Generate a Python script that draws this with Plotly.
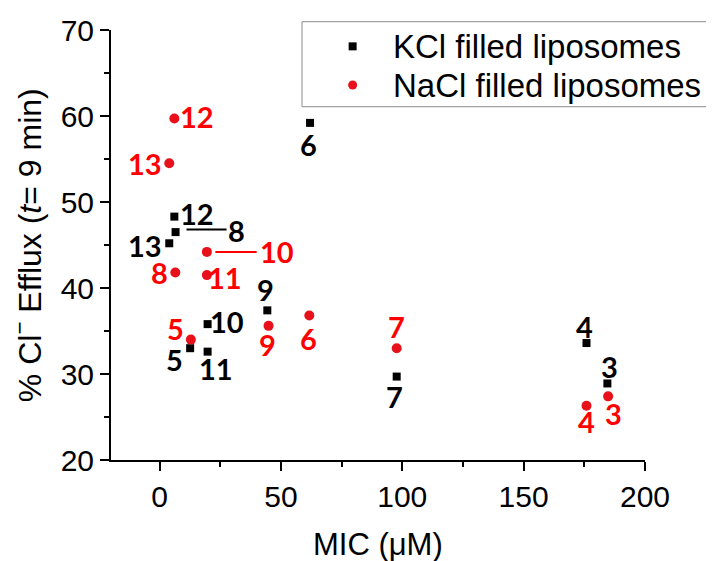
import plotly.graph_objects as go

# ---- data ----
kcl_ids = ["3", "4", "5", "6", "7", "8", "9", "10", "11", "12", "13"]
kcl_mic = [184.5, 175.9, 12.6, 62.0, 97.7, 6.6, 44.4, 19.8, 19.8, 6.1, 4.0]
kcl_efflux = [28.9, 33.6, 33.0, 59.2, 29.7, 46.5, 37.4, 35.8, 32.6, 48.3, 45.2]

nacl_ids = ["3", "4", "5", "6", "7", "8", "9", "10", "11", "12", "13"]
nacl_mic = [184.8, 175.9, 12.9, 61.7, 97.7, 6.5, 44.9, 19.5, 19.5, 6.1, 4.0]
nacl_efflux = [27.4, 26.3, 34.0, 36.8, 33.0, 41.8, 35.6, 44.2, 41.5, 59.7, 54.5]

x_ticks = [0, 50, 100, 150, 200]
y_ticks = [20, 30, 40, 50, 60, 70]
series_names = ["KCl filled liposomes", "NaCl filled liposomes"]
x_title = "MIC (μM)"
y_title = "% Cl<sup>−</sup> Efflux (<i>t</i>= 9 min)"

# ---- label placement (pixel offsets: dx right, dy up) ----
kcl_label_off = {
    "3": (2, 17), "4": (-2, 17), "5": (-16, -11), "6": (-2, -22), "7": (-2, -20),
    "8": (61, 2), "9": (-2, 21), "10": (19, 3), "11": (8, -17), "12": (23, 3), "13": (-24, -2),
}
nacl_label_off = {
    "3": (5, -17), "4": (0, -16), "5": (-15, 11), "6": (-1, -23), "7": (0, 22),
    "8": (-16, 0), "9": (-1, -19), "10": (70, 0), "11": (18, -2), "12": (23, 2), "13": (-24, 0),
}

BLACK = "#000000"
RED_MARK = "#e8101a"
RED_TEXT = "#ff0000"
SANS = "Liberation Sans, Arial"

fig = go.Figure()
fig.add_trace(go.Scatter(
    x=kcl_mic, y=kcl_efflux, mode="markers", name=series_names[0],
    marker=dict(symbol="square", size=8, color=BLACK), showlegend=False,
))
fig.add_trace(go.Scatter(
    x=nacl_mic, y=nacl_efflux, mode="markers", name=series_names[1],
    marker=dict(symbol="circle", size=10, color=RED_MARK), showlegend=False,
))

label_font = dict(family="Lato", size=29, weight="bold")
for ids, xs, ys, offs, col in [
    (kcl_ids, kcl_mic, kcl_efflux, kcl_label_off, BLACK),
    (nacl_ids, nacl_mic, nacl_efflux, nacl_label_off, RED_TEXT),
]:
    for i, xv, yv in zip(ids, xs, ys):
        dx, dy = offs[i]
        fig.add_annotation(x=xv, y=yv, text=i, showarrow=False,
                           xshift=dx, yshift=dy,
                           font=dict(color=col, **label_font))

# leader lines for label 8 (KCl) and label 10 (NaCl)
kx, ky = kcl_mic[kcl_ids.index("8")], kcl_efflux[kcl_ids.index("8")]
nx, ny = nacl_mic[nacl_ids.index("10")], nacl_efflux[nacl_ids.index("10")]
fig.add_shape(type="line", xref="x", yref="y",
              x0=kx + 4.5, x1=kx + 21, y0=ky + 0.3, y1=ky + 0.3,
              line=dict(color=BLACK, width=2))
fig.add_shape(type="line", xref="x", yref="y",
              x0=nx + 3.5, x1=nx + 20.5, y0=ny, y1=ny,
              line=dict(color=RED_TEXT, width=2))

# ---- legend box (drawn to match the original's tight layout) ----
fig.add_shape(type="rect", xref="paper", yref="paper",
              x0=0.3577, x1=1.14, y0=0.8216, y1=1.0193,
              line=dict(color="#8c8c8c", width=1), fillcolor="white", layer="below")
leg_rows = [(1.0193 - 0.8216) * f for f in (0.71, 0.255)]
for k, (name, sym, col, size) in enumerate([
    (series_names[0], "rect", BLACK, 4),
    (series_names[1], "circle", RED_MARK, 4.5),
]):
    yc = 0.8216 + leg_rows[k]
    fig.add_shape(type=sym, xref="paper", yref="paper",
                  xsizemode="pixel", ysizemode="pixel",
                  xanchor=0.4525, yanchor=yc,
                  x0=-size, x1=size, y0=-size, y1=size,
                  line=dict(width=0), fillcolor=col)
    fig.add_annotation(xref="paper", yref="paper", x=0.5235, y=yc,
                       xanchor="left", yanchor="middle", showarrow=False,
                       text=name, font=dict(family=SANS, size=33, color=BLACK))

# ---- axis titles ----
fig.add_annotation(xref="paper", yref="paper", x=0.5, y=-0.197,
                   xanchor="center", yanchor="middle", showarrow=False,
                   text=x_title, font=dict(family=SANS, size=31, color=BLACK))
fig.add_annotation(xref="paper", yref="paper", x=-0.157, y=0.5,
                   xanchor="center", yanchor="middle", showarrow=False,
                   textangle=-90, text=y_title,
                   font=dict(family=SANS, size=32, color=BLACK))

axis_font = dict(family=SANS, size=30, color=BLACK)
fig.update_layout(
    width=714, height=561,
    margin=dict(l=103, r=77, t=22, b=109, autoexpand=False),
    paper_bgcolor="white", plot_bgcolor="white",
    font=axis_font,
    showlegend=False,
    xaxis=dict(
        range=[-20, 200], tickvals=x_ticks, ticks="outside", ticklen=9,
        tickwidth=2, tickcolor="black", showline=True, linewidth=2,
        linecolor="black", showgrid=False, zeroline=False, automargin=False,
        minor=dict(tickvals=[25, 75, 125, 175], ticks="outside", ticklen=5,
                   tickwidth=2, tickcolor="black", showgrid=False),
        tickfont=axis_font,
    ),
    yaxis=dict(
        range=[20, 70], tickvals=y_ticks, ticks="outside", ticklen=9,
        tickwidth=2, tickcolor="black", showline=True, linewidth=2,
        linecolor="black", showgrid=False, zeroline=False, automargin=False,
        minor=dict(tickvals=[25, 35, 45, 55, 65], ticks="outside", ticklen=5,
                   tickwidth=2, tickcolor="black", showgrid=False),
        tickfont=axis_font,
    ),
)

fig.write_html("out.html")
